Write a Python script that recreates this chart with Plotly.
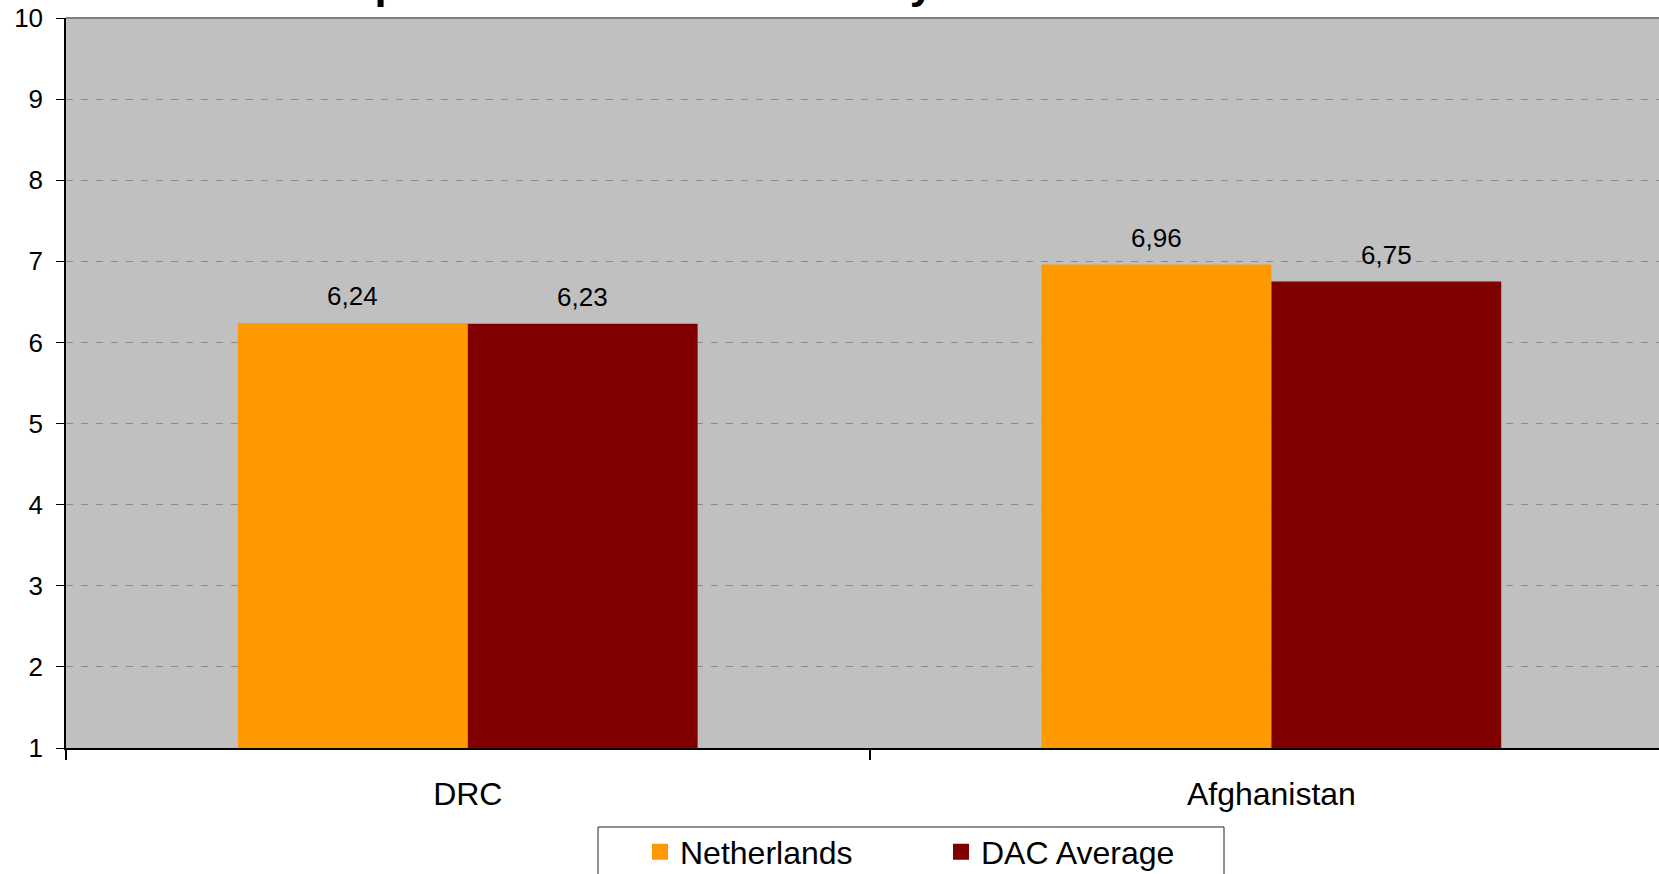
import plotly.graph_objects as go

# Scores per recipient country (1-10 scale)
countries = ["DRC", "Afghanistan"]
netherlands = [6.24, 6.96]
dac_average = [6.23, 6.75]
series_names = ["Netherlands", "DAC Average"]
series_colors = ["#FF9900", "#800000"]
y_ticks = list(range(1, 11))
title_text = "Comparison of donor scores by Netherlands and DAC"

FONT = "Liberation Sans, Arial, sans-serif"

# page geometry (px)
PAGE_W, PAGE_H = 1659, 874
L, T, B = 66, 18, 748
W, H = PAGE_W - L, B - T


def px_x(x):
    return (x - L) / W


def px_y(y):
    return (B - y) / H


def label(v):
    return f"{v:.2f}".replace(".", ",")


fig = go.Figure()

for name, vals, col in zip(series_names, [netherlands, dac_average], series_colors):
    fig.add_trace(go.Bar(
        x=countries, y=vals, name=name, marker=dict(color=col, line=dict(width=0)),
        showlegend=False, cliponaxis=False,
    ))
    # legend entry with a larger square swatch
    fig.add_trace(go.Scatter(
        x=[None], y=[None], mode="markers", name=name,
        marker=dict(symbol="square", size=18, color=col),
    ))

# value labels above each bar
bar_w = (1 - 0.428) / 2
for s, vals in enumerate([netherlands, dac_average]):
    off = (s - 0.5) * bar_w
    for i, v in enumerate(vals):
        fig.add_annotation(
            x=i + off, y=v, xref="x", yref="y", text=label(v), showarrow=False,
            yanchor="bottom", yshift=10, font=dict(family=FONT, size=26, color="black"),
        )

# chart title (mostly above the visible page)
fig.add_annotation(
    x=px_x(835), y=px_y(9), xref="paper", yref="paper", text=f"<b>{title_text}</b>",
    showarrow=False, xanchor="center", yanchor="bottom",
    font=dict(family=FONT, size=43.4, color="black"),
)

# legend frame
fig.add_shape(type="rect", xref="paper", yref="paper",
              x0=px_x(598), x1=px_x(1224), y0=px_y(827), y1=px_y(900),
              line=dict(color="#222222", width=1), fillcolor="rgba(0,0,0,0)")

# plot-area top border
fig.add_shape(type="line", xref="paper", yref="paper", x0=0, x1=1, y0=1, y1=1,
              line=dict(color="#808080", width=2))

fig.update_layout(
    width=PAGE_W, height=PAGE_H,
    margin=dict(l=L, r=0, t=T, b=PAGE_H - B, pad=0, autoexpand=False),
    paper_bgcolor="white", plot_bgcolor="#C0C0C0",
    barmode="group", bargap=0.428, bargroupgap=0,
    font=dict(family=FONT, color="black"),
    legend=dict(
        orientation="h", x=px_x(640), y=px_y(824.5), xanchor="left", yanchor="top",
        font=dict(family=FONT, size=32, color="black"), itemsizing="trace",
        entrywidth=256, bgcolor="rgba(0,0,0,0)", borderwidth=0,
    ),
    xaxis=dict(
        type="category", range=[-0.5, -0.5 + W / 803.6], tickson="boundaries",
        ticks="outside", ticklen=10, tickcolor="black", tickwidth=1.5,
        showline=True, linecolor="black", linewidth=1.5, showgrid=False,
        tickfont=dict(family=FONT, size=32, color="black"), ticklabelstandoff=17,
    ),
    yaxis=dict(
        range=[1, 10], tickvals=y_ticks, ticks="outside", ticklen=8, tickcolor="black",
        showline=True, linecolor="black", linewidth=1.5,
        showgrid=True, gridcolor="#8C8C8C", gridwidth=1, griddash="7px,8px",
        tickfont=dict(family=FONT, size=26, color="black"), ticklabelstandoff=8,
        zeroline=False,
    ),
)

fig.write_html("out.html")
